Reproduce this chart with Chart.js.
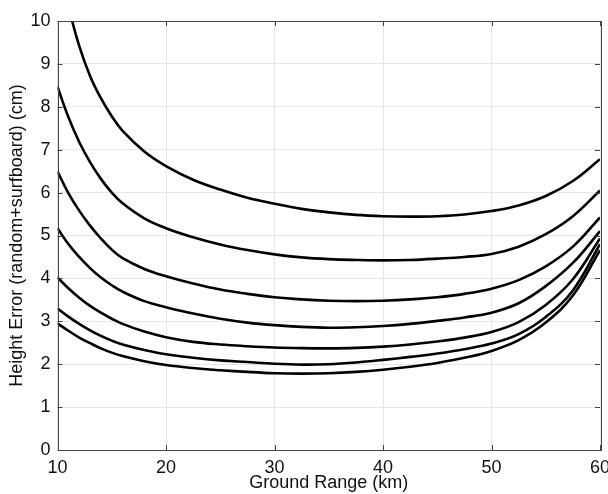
<!DOCTYPE html>
<html>
<head>
<meta charset="utf-8">
<script src="https://cdn.jsdelivr.net/npm/chart.js@4/dist/chart.umd.min.js"></script>
<style>
  html, body { margin: 0; padding: 0; background: #fff; }
  #wrap { width: 608px; height: 494px; position: relative; }
</style>
</head>
<body>
<div id="wrap"><canvas id="errChart" width="608" height="494"></canvas></div>
<script>
// ground range samples (km)
const rangeKm = [10, 11, 12, 13, 14, 15, 16, 18, 20, 22.5, 25, 27.5, 30, 32.5, 35, 37.5, 40, 42.5, 45, 47.5, 50, 52.5, 55, 57.5, 60];

// height error curves (cm), top to bottom
const curve1 = [11.45, 10.35, 9.42, 8.72, 8.2, 7.78, 7.44, 6.96, 6.62, 6.3, 6.07, 5.88, 5.74, 5.62, 5.54, 5.48, 5.45, 5.44, 5.45, 5.49, 5.57, 5.7, 5.92, 6.27, 6.78];
const curve2 = [8.47, 7.76, 7.18, 6.71, 6.32, 6.0, 5.75, 5.4, 5.17, 4.96, 4.79, 4.66, 4.56, 4.49, 4.45, 4.43, 4.42, 4.43, 4.46, 4.5, 4.57, 4.74, 5.03, 5.45, 6.05];
const curve3 = [6.49, 5.99, 5.58, 5.23, 4.93, 4.67, 4.47, 4.22, 4.05, 3.88, 3.74, 3.64, 3.56, 3.51, 3.48, 3.47, 3.48, 3.51, 3.56, 3.64, 3.76, 3.96, 4.28, 4.74, 5.42];
const curve4 = [5.17, 4.8, 4.5, 4.24, 4.02, 3.84, 3.69, 3.47, 3.33, 3.18, 3.06, 2.97, 2.91, 2.87, 2.85, 2.86, 2.89, 2.94, 3.01, 3.09, 3.2, 3.42, 3.82, 4.36, 5.1];
const curve5 = [4.02, 3.77, 3.55, 3.36, 3.2, 3.06, 2.94, 2.76, 2.63, 2.52, 2.46, 2.42, 2.39, 2.375, 2.37, 2.38, 2.41, 2.46, 2.53, 2.62, 2.75, 2.98, 3.38, 3.98, 4.93];
const curve6 = [3.3, 3.11, 2.94, 2.79, 2.66, 2.55, 2.46, 2.33, 2.23, 2.15, 2.09, 2.05, 2.01, 1.99, 2.0, 2.04, 2.1, 2.17, 2.25, 2.35, 2.48, 2.7, 3.1, 3.72, 4.8];
const curve7 = [2.95, 2.78, 2.62, 2.49, 2.37, 2.27, 2.19, 2.07, 1.98, 1.91, 1.86, 1.82, 1.79, 1.78, 1.79, 1.82, 1.87, 1.94, 2.03, 2.15, 2.31, 2.56, 2.97, 3.6, 4.66];

const curves = [curve1, curve2, curve3, curve4, curve5, curve6, curve7];

const FONT = "'Liberation Sans', Arial, Helvetica, sans-serif";

// MATLAB-style box with inward ticks
const boxPlugin = {
  id: 'boxTicks',
  afterDatasetsDraw(chart) {
    const { ctx, chartArea: a, scales } = chart;
    const len = 5;
    ctx.save();
    ctx.strokeStyle = '#444';
    ctx.lineWidth = 1;
    ctx.beginPath();
    scales.x.ticks.forEach(t => {
      const px = Math.round(scales.x.getPixelForValue(t.value)) + 0.5;
      ctx.moveTo(px, a.bottom); ctx.lineTo(px, a.bottom - len);
      ctx.moveTo(px, a.top); ctx.lineTo(px, a.top + len);
    });
    scales.y.ticks.forEach(t => {
      const py = Math.round(scales.y.getPixelForValue(t.value)) + 0.5;
      ctx.moveTo(a.left, py); ctx.lineTo(a.left + len, py);
      ctx.moveTo(a.right, py); ctx.lineTo(a.right - len, py);
    });
    ctx.stroke();
    ctx.strokeRect(Math.round(a.left) + 0.5, Math.round(a.top) + 0.5,
                   Math.round(a.right - a.left), Math.round(a.bottom - a.top));
    ctx.restore();
  }
};

new Chart(document.getElementById('errChart').getContext('2d'), {
  type: 'line',
  data: {
    datasets: curves.map((c, i) => ({
      label: 'curve ' + (i + 1),
      data: rangeKm.map((x, j) => ({ x: x, y: c[j] })),
      borderColor: '#000',
      borderWidth: 2.6,
      pointRadius: 0,
      fill: false,
      tension: 0.4
    }))
  },
  options: {
    responsive: false,
    animation: false,
    layout: { padding: { left: 0, right: 8, top: 21, bottom: 0 } },
    plugins: {
      legend: { display: false },
      tooltip: { enabled: false }
    },
    scales: {
      x: {
        type: 'linear',
        min: 10,
        max: 60,
        afterFit: s => { s.height = 44; s.paddingLeft = 0; s.paddingRight = 0; },
        ticks: {
          stepSize: 10,
          padding: 7,
          color: '#111',
          font: { family: FONT, size: 18 }
        },
        grid: { color: '#e6e6e6', drawTicks: false },
        border: { display: false },
        title: {
          display: true,
          text: 'Ground Range (km)',
          color: '#111',
          font: { family: FONT, size: 18 },
          padding: { top: 0, bottom: 0 }
        }
      },
      y: {
        min: 0,
        max: 10,
        afterFit: s => { s.width = 57.5; s.paddingTop = 0; s.paddingBottom = 0; },
        ticks: {
          stepSize: 1,
          padding: 7,
          color: '#111',
          font: { family: FONT, size: 18 }
        },
        grid: { color: '#e6e6e6', drawTicks: false },
        border: { display: false },
        title: {
          display: true,
          text: 'Height Error (random+surfboard) (cm)',
          color: '#111',
          font: { family: FONT, size: 18 },
          padding: { top: 6, bottom: 0 }
        }
      }
    }
  },
  plugins: [boxPlugin]
});
</script>
</body>
</html>
